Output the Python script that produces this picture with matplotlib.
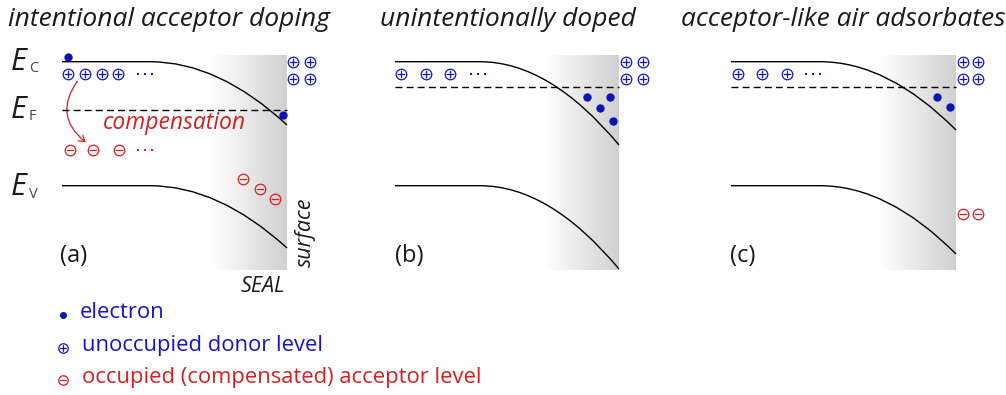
import matplotlib
matplotlib.use("Agg")
import matplotlib.pyplot as plt
import numpy as np
from matplotlib.path import Path
from matplotlib.patches import PathPatch, FancyArrowPatch

plt.rcParams['font.family'] = ['Open Sans', 'DejaVu Sans']

BLUE = '#1414c8'
DOT = '#0a14b4'
RED = '#d42020'
INK = '#1a1a1a'

# ---- panel data (figure pixel coordinates, y downward) ----
titles = ['intentional acceptor doping', 'unintentionally doped', 'acceptor-like air adsorbates']
title_x = [8, 380, 681]
labels = ['(a)', '(b)', '(c)']
label_x = [60, 395, 730]

band_x_start = [62, 395, 731]
band_x_flat_end = [150, 480, 820]
band_x_surface = [287, 619, 956]
cb_flat = 61.7
vb_flat = 185.7
cb_surface = [125, 145, 130]
vb_surface = [248, 269, 254]
fermi_y = [110, 86.7, 86.7]
seal_x0 = [213, 545, 880]
seal_top, seal_bottom = 55, 270

# bulk donors (y = 74) and the "..." after them
donor_x = [[68, 85, 102, 118], [401, 426, 450], [738, 762, 787]]
donor_dots_x = [145, 478, 813]
donor_y = 74
# surface donors 2x2
surf_donor_x = [[293, 310], [626, 643], [963, 978]]
surf_donor_y = [62, 79]

# electrons
electrons_x = [[68, 283], [587, 610, 600, 613], [937, 950]]
electrons_y = [[57, 115], [97, 97, 108, 121], [97, 107]]

# acceptors
bulk_acc_x = [70, 93, 119]
bulk_acc_y = 150
acc_dots_x = 145
space_acc_x = [243, 260, 275]
space_acc_y = [179, 189, 199]
surf_acc_x = [963, 978]
surf_acc_y = 214

fig = plt.figure(figsize=(10.06, 3.95), dpi=100)
ax = fig.add_axes([0, 0, 1, 1])
ax.set_xlim(0, 1006)
ax.set_ylim(395, 0)
ax.axis('off')

# custom markers: circled plus / circled minus
circ = Path.unit_circle()
hbar = Path([(-0.72, 0), (0.72, 0)], [Path.MOVETO, Path.LINETO])
vbar = Path([(0, -0.72), (0, 0.72)], [Path.MOVETO, Path.LINETO])
oplus = Path.make_compound_path(circ, hbar, vbar)
ominus = Path.make_compound_path(circ, hbar)


def plus(x, y, ms=7.6, c=BLUE):
    ax.plot(x, y, ls='none', marker=oplus, ms=ms, mfc='none', mec=c, mew=0.9)


def minus(x, y, ms=7.6, c=RED):
    ax.plot(x, y, ls='none', marker=ominus, ms=ms, mfc='none', mec=c, mew=0.9)


def ellipsis(xc, y, c):
    ax.plot([xc - 7, xc, xc + 7], [y, y, y], ls='none', marker='s', ms=2.0, mew=0, color=c)


grad = np.linspace(0, 1, 256).reshape(1, -1)
shade = matplotlib.colors.LinearSegmentedColormap.from_list('seal', ['#ffffff', '#d0d0d0'])

for i in range(3):
    x0, x1, x2 = band_x_start[i], band_x_flat_end[i], band_x_surface[i]
    ax.imshow(grad, cmap=shade, aspect='auto', extent=[seal_x0[i], x2, seal_bottom, seal_top],
              zorder=0, interpolation='bicubic')
    for yf, ys in [(cb_flat, cb_surface[i]), (vb_flat, vb_surface[i])]:
        p = Path([(x0, yf), (x1, yf), ((x1 + x2) / 2, yf), (x2, ys)],
                 [Path.MOVETO, Path.LINETO, Path.CURVE3, Path.CURVE3])
        ax.add_patch(PathPatch(p, fc='none', ec='black', lw=1.0, zorder=2))
    ax.plot([x0, x2], [fermi_y[i]] * 2, color='black', lw=1.0, ls=(0, (5, 3)), zorder=2)

    plus(donor_x[i], [donor_y] * len(donor_x[i]))
    ellipsis(donor_dots_x[i], donor_y, BLUE)
    for yy in surf_donor_y:
        plus(surf_donor_x[i], [yy, yy])
    ax.plot(electrons_x[i], electrons_y[i], ls='none', marker='o', ms=5, color=DOT, zorder=3)

    ax.text(title_x[i], 20, titles[i], fontsize=19, style='italic', ha='left', va='center',
            color=INK)
    ax.text(label_x[i], 256, labels[i], fontsize=17, ha='left', va='center', color=INK)

# acceptors
minus(bulk_acc_x, [bulk_acc_y] * 3)
ellipsis(acc_dots_x, bulk_acc_y, RED)
minus(space_acc_x, space_acc_y)
minus(surf_acc_x, [surf_acc_y] * 2)

# compensation arrow + text
ax.add_patch(FancyArrowPatch((79, 79), (88, 144), connectionstyle='arc3,rad=0.5',
                             arrowstyle='->,head_length=4,head_width=2.5', color=RED, lw=0.9))
ax.text(174, 123, 'compensation', fontsize=16.5, style='italic', color=RED, ha='center',
        va='center')

# energy labels
for lab, ye in [('C', 62), ('F', 110), ('V', 187)]:
    ax.text(11, ye, 'E', fontsize=22, style='italic', ha='left', va='center', color=INK)
    ax.text(29, ye + 7, lab, fontsize=10.5, ha='left', va='center', color='#444444')

ax.text(305, 232, 'surface', fontsize=15.5, style='italic', rotation=90, ha='center',
        va='center', color=INK)
ax.text(263, 287, 'SEAL', fontsize=15.5, style='italic', ha='center', va='center', color=INK)

# legend
ax.plot([63], [315], ls='none', marker='o', ms=4, color=DOT)
ax.text(80, 312, 'electron', fontsize=15.8, color=BLUE, ha='left', va='center')
plus([63], [348], ms=6.8)
ax.text(82, 345, 'unoccupied donor level', fontsize=15.8, color=BLUE, ha='left', va='center')
minus([63], [380], ms=6.8)
ax.text(82, 377, 'occupied (compensated) acceptor level', fontsize=15.8, color=RED, ha='left',
        va='center')

fig.savefig('out.png', dpi=100)
